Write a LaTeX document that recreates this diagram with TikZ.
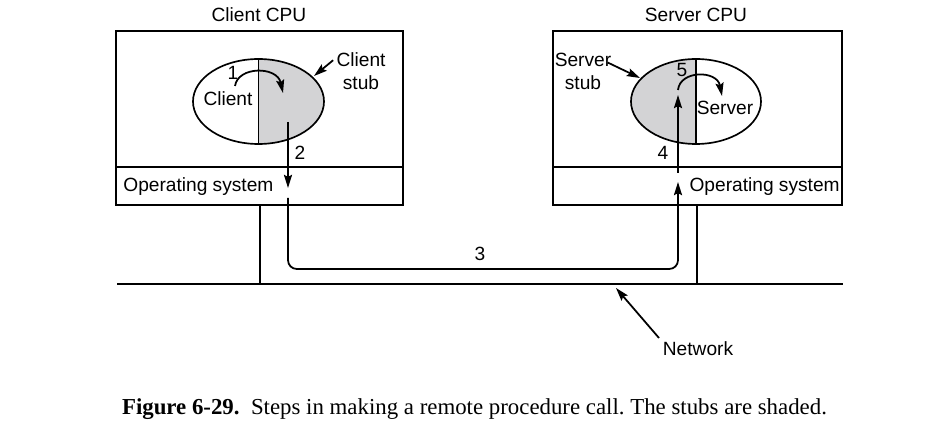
\documentclass[tikz,border=0pt]{standalone}
\usepackage{fontspec}
\setmainfont{Liberation Serif}
\setsansfont{Liberation Sans}
\usepackage{tikz}
\usetikzlibrary{arrows.meta, positioning, calc}
\definecolor{stubgray}{RGB}{211,211,213}
\frenchspacing
\tikzset{
	lbl/.style={font=\sffamily\fontsize{10.9}{13}\selectfont, inner sep=0pt},
	frame/.style={draw, line width=0.95pt},
	wire/.style={draw, line width=0.8pt},
	flow/.style={draw, line width=1pt, -{Stealth[length=7.5pt,width=4.6pt,inset=1.2pt]}},
	caption/.style={font=\fontsize{13}{15}\selectfont, inner sep=0pt}
}
\begin{document}
\begin{tikzpicture}[x=0.02cm, y=-0.02cm]
		\useasboundingbox (0,0) rectangle (947,422);
		
		% The two machines with their operating system layer
		\draw[frame] (116,31) rectangle (403,205);
		\draw[frame] (116,167) -- (403,167);
		\draw[frame] (553,31) rectangle (842,205);
		\draw[frame] (553,167) -- (842,167);
		\node[lbl] (ccpu) at (259,15) {Client CPU};
		\node[lbl] (scpu) at (696,15) {Server CPU};
		\node[lbl, anchor=west] (cos) at (123,187) {Operating system};
		\node[lbl, anchor=east] (sos) at (840,187) {Operating system};
		
		% Network and the taps to each machine
		\coordinate (netl) at (117,284);
		\coordinate (netr) at (843,284);
		\draw[wire] (netl) -- (netr);
		\draw[wire] (260,205) -- (260,284);
		\draw[wire] (697,205) -- (697,284);
		
		% Client process, stub shaded on the right half
		\coordinate (cproc) at (258.5,101.5);
		\begin{scope}
			\clip (258.5,40) rectangle (340,160);
			\fill[stubgray] (cproc) ellipse (65.5 and 42.5);
		\end{scope}
		\draw[frame] (cproc) ellipse (65.5 and 42.5);
		\draw[frame] (258.5,59) -- (258.5,144);
		\node[lbl] (client) at (228,99) {Client};
		\node[lbl] (one) at (233,73) {1};
		
		% Server process, stub shaded on the left half
		\coordinate (sproc) at (696,101.5);
		\begin{scope}
			\clip (620,40) rectangle (696,160);
			\fill[stubgray] (sproc) ellipse (65 and 42.5);
		\end{scope}
		\draw[frame] (sproc) ellipse (65 and 42.5);
		\draw[frame] (696,59) -- (696,144);
		\node[lbl] (server) at (725,108) {Server};
		\node[lbl] (five) at (682,70) {5};
		
		% Stub labels with pointers
		\node[lbl, align=center] (cstub) at (361,71) {Client\\stub};
		\node[lbl, align=center] (sstub) at (583,71) {Server\\stub};
		\coordinate (cstubtip) at (314,76);
		\coordinate (sstubtip) at (640,78);
		\draw[flow] ($(cstub.north west)+(-3,8)$) -- (cstubtip);
		\draw[flow] ($(sstub.north east)+(-4,10)$) -- (sstubtip);
		
		% Step 1: client calls its stub
		\draw[flow] (235,86) .. controls (238,66) and (277,66) .. (283,93);
		% Step 5: server stub calls the server
		\draw[flow] (678,90) .. controls (680,70) and (717,70) .. (722,96);
		
		% Step 2: stub hands message to the OS
		\coordinate (cdown) at (288,122);
		\coordinate (cos2) at (288,188);
		\draw[flow] (cdown) -- (cos2);
		\node[lbl] (two) at (300,153) {2};
		
		% Step 3: message travels over the network
		\coordinate (cout) at (288,198);
		\coordinate (sin) at (678,182);
		\draw[flow, rounded corners=5pt] (cout) -- (288,269) -- (678,269) -- (sin);
		\node[lbl] (three) at (480,254) {3};
		
		% Step 4: server OS passes it up to the stub
		\coordinate (sup4) at (678,173);
		\coordinate (sstub4) at (678,95);
		\draw[flow] (sup4) -- (sstub4);
		\node[lbl] (four) at (663,153) {4};
		
		% Network label
		\node[lbl] (net) at (698,349) {Network};
		\coordinate (nettip) at (616,288);
		\draw[flow] (659,338) -- (nettip);
		
		% Caption
		\node[caption] (cap) at (474.5,409) {\textbf{Figure 6-29.}\enspace Steps in making a remote procedure call. The stubs are shaded.};
		
	\end{tikzpicture}
\end{document}
